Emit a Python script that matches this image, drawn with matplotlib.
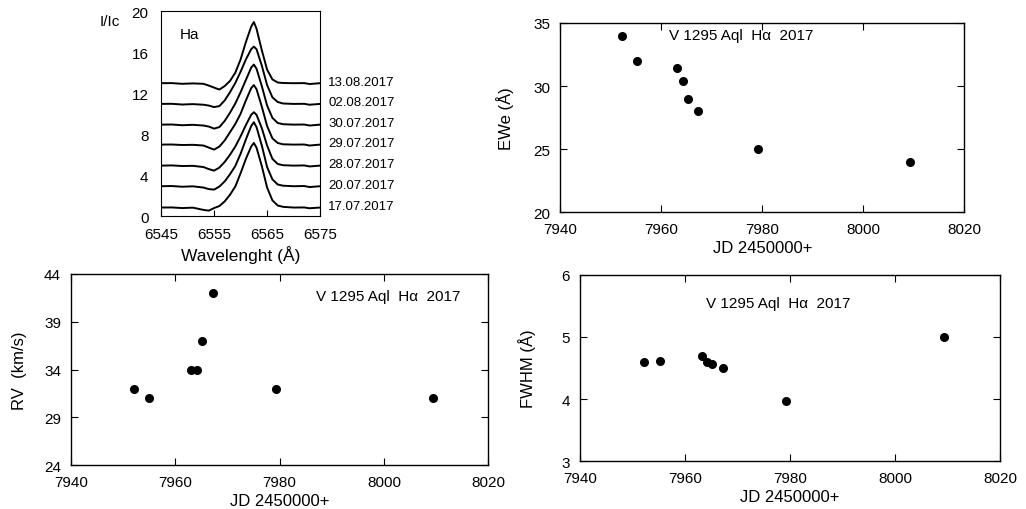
import matplotlib
matplotlib.use('agg')
import matplotlib.pyplot as plt

plt.rcParams['font.family'] = ['Liberation Sans', 'DejaVu Sans']

# JD 2450000+ of the observations
jd = [7952.3, 7955.2, 7963.2, 7964.3, 7965.2, 7967.3, 7979.2, 8009.2]
jd_rv = [7952.1, 7955.0, 7963.1, 7964.2, 7965.2, 7967.3, 7979.3, 8009.3]
ewe = [34.0, 32.0, 31.4, 30.4, 29.0, 28.0, 25.0, 24.0]
rv = [32.0, 31.0, 34.0, 34.0, 37.0, 42.0, 32.0, 31.0]
fwhm = [4.59, 4.62, 4.70, 4.60, 4.56, 4.50, 3.96, 5.00]

# H-alpha profiles, shifted vertically
wave = [6545, 6547, 6549, 6551, 6553, 6554, 6555, 6556, 6557, 6558, 6559, 6560,
        6561, 6562, 6562.5, 6563, 6564, 6565, 6566, 6567, 6568, 6570, 6572, 6573, 6575]
spectra = {
    '17.07.2017': [0.85, 0.86, 0.80, 0.84, 0.62, 0.55, 0.80, 1.00, 1.45, 2.10, 2.90, 4.20,
                   5.60, 6.80, 7.15, 6.70, 4.90, 2.80, 1.55, 1.05, 0.92, 0.85, 0.86, 0.78, 0.85],
    '20.07.2017': [2.93, 2.95, 2.88, 2.92, 2.80, 2.65, 2.60, 2.90, 3.40, 4.10, 4.90, 6.10,
                   7.50, 8.80, 9.17, 8.70, 6.90, 4.80, 3.60, 3.10, 2.98, 2.93, 2.95, 2.85, 2.93],
    '28.07.2017': [4.94, 4.96, 4.90, 4.92, 4.80, 4.60, 4.45, 4.75, 5.30, 6.00, 6.80, 7.80,
                   8.90, 9.90, 10.15, 9.90, 8.60, 6.90, 5.60, 5.10, 4.98, 4.94, 4.96, 4.86, 4.94],
    '29.07.2017': [6.99, 7.00, 6.95, 6.97, 6.90, 6.70, 6.50, 6.80, 7.40, 8.20, 9.00, 10.00,
                   11.30, 12.50, 12.80, 12.40, 10.70, 8.80, 7.60, 7.15, 7.02, 6.99, 7.00, 6.90, 6.99],
    '30.07.2017': [8.94, 8.95, 8.88, 8.92, 8.85, 8.75, 8.55, 8.70, 9.30, 10.10, 11.00, 12.10,
                   13.30, 14.50, 14.80, 14.40, 12.70, 10.80, 9.60, 9.10, 8.98, 8.94, 8.95, 8.85, 8.94],
    '02.08.2017': [10.96, 10.97, 10.90, 10.94, 10.88, 10.80, 10.65, 10.75, 11.30, 12.10, 13.00, 14.10,
                   15.30, 16.30, 16.55, 16.30, 14.70, 12.80, 11.60, 11.15, 11.00, 10.96, 10.97, 10.88, 10.96],
    '13.08.2017': [12.98, 12.99, 12.92, 12.96, 12.92, 12.75, 12.55, 12.36, 12.70, 13.20, 14.00, 15.30,
                   17.00, 18.50, 18.95, 18.30, 16.20, 14.30, 13.35, 13.05, 13.00, 12.98, 12.99, 12.90, 12.98],
}
title = 'V 1295 Aql  H\u03b1  2017'


def style_box(ax):
    ax.tick_params(direction='in', top=True, right=True, length=5, labelsize=11, pad=7)
    for s in ax.spines.values():
        s.set_linewidth(1.0)


fig = plt.figure(figsize=(10.26, 5.10), dpi=100)

# spectra
ax0 = fig.add_axes([0.157, 0.574, 0.155, 0.402])
for date, flux in spectra.items():
    ax0.plot(wave, flux, color='black', lw=1.4)
    ax0.text(1.05, flux[-1] + 0.15, date, transform=ax0.get_yaxis_transform(),
             fontsize=9.5, va='center', ha='left')
ax0.set_xlim(6545, 6575)
ax0.set_ylim(0, 20)
ax0.set_xticks([6545, 6555, 6565, 6575])
ax0.set_yticks([0, 4, 8, 12, 16, 20])
ax0.tick_params(axis='x', direction='in', length=4, labelsize=11, pad=8)
ax0.tick_params(axis='y', length=0, labelsize=11, pad=9)
ax0.set_xlabel('Wavelenght (\u00c5)', fontsize=12.5, labelpad=3)
ax0.text(0.12, 0.87, 'Ha', transform=ax0.transAxes, fontsize=11)
ax0.text(-0.385, 0.95, 'I/Ic', transform=ax0.transAxes, fontsize=11, ha='left', va='center')

# equivalent width
ax1 = fig.add_axes([0.546, 0.582, 0.394, 0.371])
ax1.plot(jd, ewe, 'o', color='black', ms=5.5)
ax1.set_xlim(7940, 8020)
ax1.set_ylim(20, 35)
ax1.set_xticks([7940, 7960, 7980, 8000, 8020])
ax1.set_yticks([20, 25, 30, 35])
style_box(ax1)
ax1.set_xlabel('JD 2450000+', fontsize=12, labelpad=3)
ax1.set_ylabel('EWe (\u00c5)', fontsize=12, labelpad=14)
ax1.text(7961.6, 34.05, title, fontsize=11, va='center')

# radial velocity
ax2 = fig.add_axes([0.069, 0.086, 0.407, 0.375])
ax2.plot(jd_rv, rv, 'o', color='black', ms=5.5)
ax2.set_xlim(7940, 8020)
ax2.set_ylim(24, 44)
ax2.set_xticks([7940, 7960, 7980, 8000, 8020])
ax2.set_yticks([24, 29, 34, 39, 44])
style_box(ax2)
ax2.set_xlabel('JD 2450000+', fontsize=12, labelpad=3)
ax2.set_ylabel('RV  (km/s)', fontsize=12, labelpad=12)
ax2.text(7986.9, 41.7, title, fontsize=11, va='center')

# FWHM
ax3 = fig.add_axes([0.565, 0.094, 0.410, 0.365])
ax3.plot(jd, fwhm, 'o', color='black', ms=5.5)
ax3.set_xlim(7940, 8020)
ax3.set_ylim(3, 6)
ax3.set_xticks([7940, 7960, 7980, 8000, 8020])
ax3.set_yticks([3, 4, 5, 6])
style_box(ax3)
ax3.set_xlabel('JD 2450000+', fontsize=12, labelpad=3)
ax3.set_ylabel('FWHM (\u00c5)', fontsize=12, labelpad=18)
ax3.text(7964.0, 5.54, title, fontsize=11, va='center')

plt.savefig('out.png', dpi=100)
